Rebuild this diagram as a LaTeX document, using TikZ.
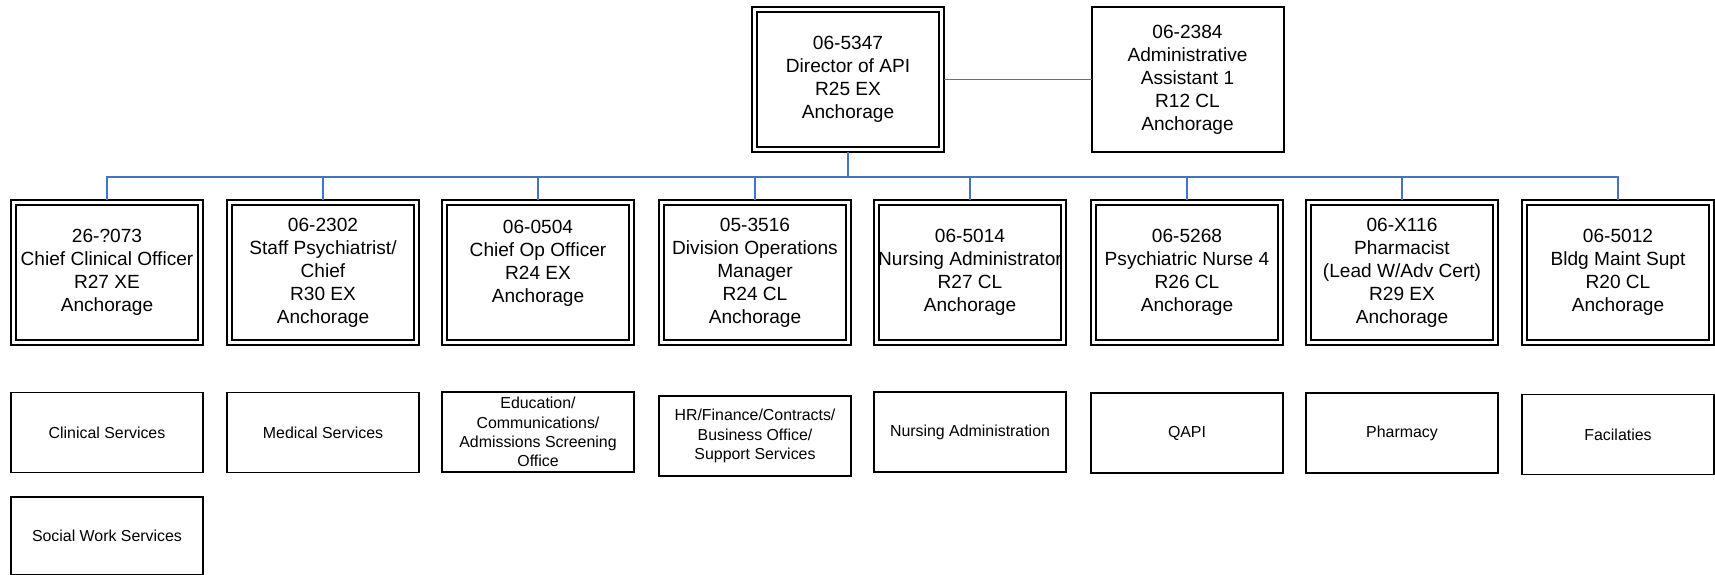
\documentclass[tikz,border=0pt]{standalone}
\usepackage{fontspec}
\setmainfont{Liberation Sans}
\definecolor{connblue}{HTML}{4472C4}
\begin{document}
\begin{tikzpicture}[x=0.5pt,y=-0.5pt,
  posbox/.style={draw, line width=1pt, inner sep=0pt, outer sep=0pt,
    minimum width=96pt, minimum height=72.5pt, align=center,
    font=\fontsize{9.55}{11.5}\selectfont},
  unitbox/.style={draw, line width=0.7pt, inner sep=0pt, outer sep=0pt,
    minimum width=96pt, minimum height=40pt, align=center,
    font=\fontsize{7.95}{9.65}\selectfont},
  conn/.style={draw=connblue, line width=0.9pt},
  innerline/.style={line width=0.6pt}]
\useasboundingbox (0,0) rectangle (1715,574);

% top level
\node[posbox] (d) at (848,79.5) {06-5347\\Director of API\\R25 EX\\Anchorage};
\node[posbox] (a) at (1187.5,79.5) {06-2384\\Administrative\\Assistant 1\\R12 CL\\Anchorage};

% second level
\node[posbox] (c1) at (107,272.5) {26-?073\\Chief Clinical Officer\\R27 XE\\Anchorage};
\node[posbox] (c2) at (323,272.5) {06-2302\\Staff Psychiatrist/\\Chief\\R30 EX\\Anchorage};
\node[posbox] (c3) at (538,272.5) {06-0504\\Chief Op Officer\\R24 EX\\Anchorage\\\mbox{}};
\node[posbox] (c4) at (755,272.5) {05-3516\\Division Operations\\Manager\\R24 CL\\Anchorage};
\node[posbox] (c5) at (970,272.5) {06-5014\\Nursing Administrator\\R27 CL\\Anchorage};
\node[posbox] (c6) at (1187,272.5) {06-5268\\Psychiatric Nurse 4\\R26 CL\\Anchorage};
\node[posbox] (c7) at (1402,272.5) {06-X116\\Pharmacist\\(Lead W/Adv Cert)\\R29 EX\\Anchorage};
\node[posbox] (c8) at (1618,272.5) {06-5012\\Bldg Maint Supt\\R20 CL\\Anchorage};

% inner lines of double borders
\foreach \n in {d,c1,c2,c3,c4,c5,c6,c7,c8}
  \draw[innerline] ([shift={(5,-5)}]\n.south west) rectangle ([shift={(-5,5)}]\n.north east);

% units
\node[unitbox] (u1) at (107,432.5) {Clinical Services};
\node[unitbox] (u2) at (323,432.5) {Medical Services};
\node[unitbox] (u3) at (538,432) {Education/\\Communications/\\Admissions Screening\\Office};
\node[unitbox] (u4) at (755,436) {HR/Finance/Contracts/\\Business Office/\\Support Services};
\node[unitbox] (u5) at (970,432) {Nursing Administration};
\node[unitbox] (u6) at (1187,433) {QAPI};
\node[unitbox] (u7) at (1402,433) {Pharmacy};
\node[unitbox] (u8) at (1618,434.5) {Facilaties};
\node[unitbox, minimum height=39pt] (u9) at (107,536) {Social Work Services};

% connectors
\coordinate (bus) at (848,177);
\draw[conn] (d.east) -- (a.west);
\foreach \n in {c1,c2,c3,c4,c5,c6,c7,c8}
  \draw[conn] (d.south) -- (d.south |- bus) -| (\n.north);
\end{tikzpicture}
\end{document}
